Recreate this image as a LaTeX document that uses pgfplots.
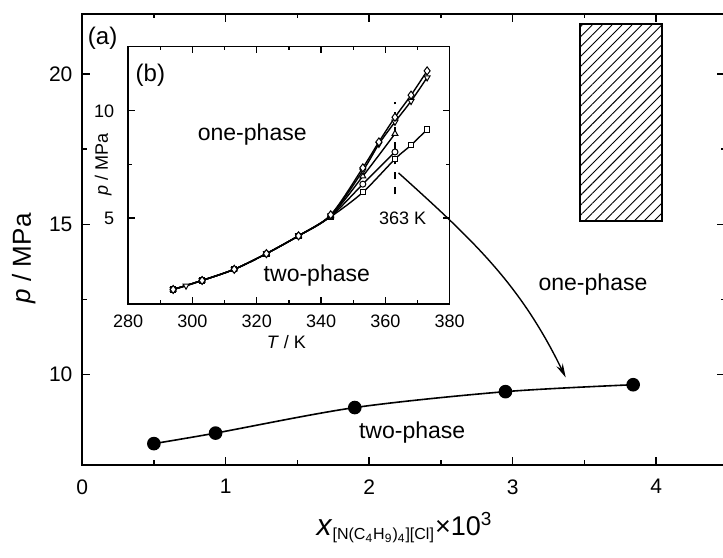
\documentclass[border=0pt]{standalone}
\usepackage{pgfplots}
\pgfplotsset{compat=1.18}
\usepackage{fontspec}
\setmainfont{Liberation Sans}
\usetikzlibrary{patterns.meta, arrows.meta}

\begin{document}
\begin{tikzpicture}
\useasboundingbox (-41pt,-46.5pt) rectangle (320pt,232pt);
% ---------------- main axis ----------------
\begin{axis}[
  at={(0pt,0pt)}, anchor=south west,
  scale only axis, width=321pt, height=225pt,
  xmin=0, xmax=4.48, ymin=7, ymax=22,
  xtick={0,1,2,3,4}, ytick={10,15,20},
  minor x tick num=1, minor y tick num=1,
  tick align=inside, major tick length=4pt, minor tick length=2.2pt,
  axis line style={line width=1pt},
  tick style={black, line width=0.8pt},
  tick label style={font=\fontsize{10.5}{12}\selectfont},
  /pgf/number format/assume math mode=true,
  xticklabel shift=3.8pt, yticklabel shift=1.3pt,
  clip=false,
]
\addplot[black, line width=0.8pt, smooth, mark=*, mark size=3pt, mark options={fill=black}]
  coordinates {(0.5,7.70) (0.93,8.05) (1.90,8.90) (2.95,9.43) (3.84,9.66)};
\draw[line width=0.8pt, pattern={Lines[angle=45,distance=3.5pt,line width=0.45pt]}]
  (axis cs:3.47,15.12) rectangle (axis cs:4.04,21.66);
\draw[line width=0.7pt, -{Stealth[length=7pt,width=3.5pt]}]
  (axis cs:2.205,16.71) to[out=-42,in=116] (axis cs:3.37,9.9);
\node[font=\fontsize{12}{14}\selectfont] at (axis cs:0.143,21.18) {(a)};
\node[font=\fontsize{11.5}{13}\selectfont] at (axis cs:3.56,13.01) {one-phase};
\node[font=\fontsize{11.5}{13}\selectfont] at (axis cs:2.30,8.08) {two-phase};
\end{axis}
% ---------------- inset ----------------
\begin{axis}[
  at={(23pt,80.3pt)}, anchor=south west,
  scale only axis, width=160.5pt, height=128.5pt,
  xmin=280, xmax=380, ymin=1, ymax=13,
  xtick={280,300,...,380}, ytick={5,10},
  minor x tick num=1, minor y tick num=1,
  tick align=inside, major tick length=3.5pt, minor tick length=2pt,
  axis line style={line width=0.8pt},
  tick style={black, line width=0.6pt},
  tick label style={font=\fontsize{9}{10}\selectfont},
  /pgf/number format/assume math mode=true,
  xticklabel shift=2pt, yticklabel shift=3.5pt,
  clip=false,
  every axis plot/.append style={black, line width=0.7pt, smooth},
]
\addplot[mark=square*, mark size=1.3pt, mark options={fill=white, line width=0.5pt}] coordinates {(294,1.67) (303,2.09) (313,2.61) (323,3.34) (333,4.17) (343,5.06) (353,6.20) (363,7.75) (368,8.40) (373,9.13)};
\addplot[mark=*, mark size=1.5pt, mark options={fill=white, line width=0.5pt}] coordinates {(294,1.67) (303,2.09) (313,2.61) (323,3.34) (333,4.17) (343,5.08) (353,6.58) (363,8.08)};
\addplot[mark=triangle*, mark size=1.7pt, mark options={fill=white, line width=0.5pt}] coordinates {(294,1.67) (303,2.09) (313,2.61) (323,3.34) (333,4.17) (343,5.10) (353,6.95) (363,8.93)};
\addplot[mark=triangle*, mark size=1.7pt, mark options={fill=white, line width=0.5pt, rotate=180}] coordinates {(294,1.67) (298,1.84) (303,2.09) (313,2.61) (323,3.34) (333,4.17) (343,5.12) (353,7.20) (358,8.45) (363,9.48) (368,10.45) (373,11.55)};
\addplot[mark=diamond*, mark size=2pt, mark options={fill=white, line width=0.5pt}] coordinates {(294,1.67) (303,2.09) (313,2.61) (323,3.34) (333,4.17) (343,5.15) (353,7.34) (358,8.55) (363,9.70) (368,10.73) (373,11.86)};
\draw[dash pattern=on 3.5pt off 4pt, line width=0.8pt] (axis cs:363,6.1) -- (axis cs:363,10.4);
\node[font=\fontsize{12}{14}\selectfont] at (axis cs:286.9,11.67) {(b)};
\node[font=\fontsize{11.5}{13}\selectfont] at (axis cs:318.6,8.9) {one-phase};
\node[font=\fontsize{11.5}{13}\selectfont] at (axis cs:338.7,2.34) {two-phase};
\node[font=\fontsize{9}{10}\selectfont] at (axis cs:365.4,4.97) {363 K};
\end{axis}
% ---------------- labels ----------------
\node[font=\fontsize{9}{10}\selectfont] at (102pt,61pt) {\textit{T} / K};
\node[font=\fontsize{9}{10}\selectfont, rotate=90] at (10.5pt,150pt) {\textit{p} / MPa};
\node[font=\fontsize{13}{15}\selectfont, rotate=90] at (-29pt,103pt) {\textit{p} / MPa};
\node[anchor=base] at (161pt,-35.5pt)
  {{\fontsize{15}{17}\selectfont\textit{x}}{\fontsize{12}{14}\selectfont\textsubscript{[N(C\textsubscript{4}H\textsubscript{9})\textsubscript{4}][Cl]}}{\fontsize{13.5}{15}\selectfont×10\textsuperscript{3}}};
\end{tikzpicture}
\end{document}
